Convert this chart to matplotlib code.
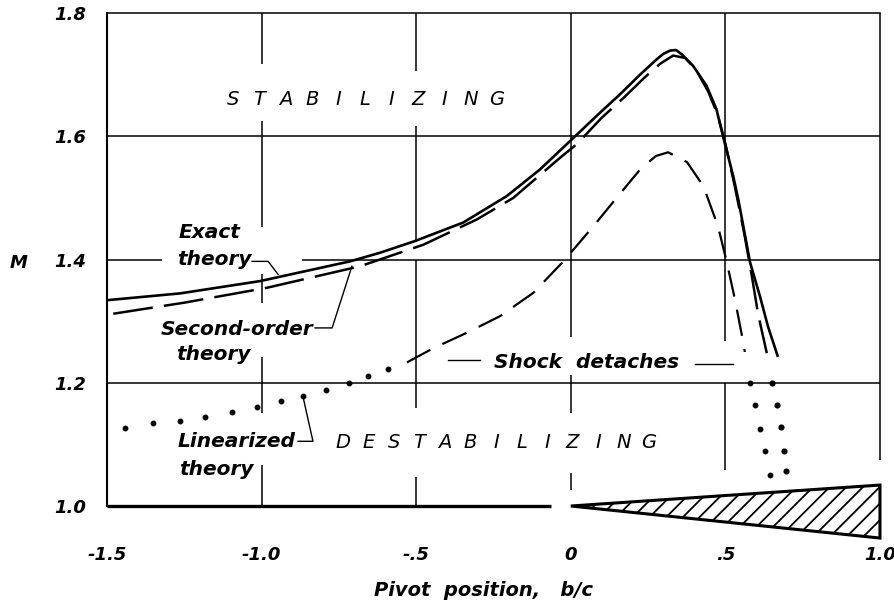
import matplotlib
matplotlib.use('Agg')
from matplotlib import pyplot as plt

plt.rcParams['font.family'] = ['DejaVu Sans']
plt.rcParams['hatch.linewidth'] = 1.3

# 精确理论 (实线)
exact_x = [-1.5, -1.264, -1.005, -0.714, -0.617, -0.504, -0.348, -0.207, -0.100, -0.003,
           0.094, 0.159, 0.224, 0.278, 0.300, 0.321, 0.340, 0.359, 0.396, 0.439, 0.471,
           0.495, 0.525, 0.542, 0.580, 0.612, 0.638, 0.670]
exact_m = [1.334, 1.345, 1.365, 1.397, 1.411, 1.430, 1.460, 1.503, 1.546, 1.592,
           1.638, 1.668, 1.700, 1.725, 1.734, 1.739, 1.740, 1.733, 1.714, 1.682, 1.644,
           1.595, 1.536, 1.497, 1.395, 1.340, 1.291, 1.242]

# 二阶理论 (长虚线)
second_x = [-1.48, -1.25, -0.984, -0.682, -0.477, -0.304, -0.186, -0.035, 0.019, 0.10,
            0.17, 0.24, 0.29, 0.331, 0.37, 0.405, 0.445, 0.475, 0.50, 0.53, 0.56,
            0.585, 0.606, 0.634]
second_m = [1.312, 1.330, 1.354, 1.389, 1.424, 1.465, 1.500, 1.565, 1.587, 1.630,
            1.662, 1.696, 1.718, 1.731, 1.727, 1.708, 1.672, 1.635, 1.588, 1.520, 1.445,
            1.375, 1.311, 1.248]

# 线性化理论 (短虚线部分)
lin_x = [-0.530, -0.445, -0.337, -0.229, -0.121, -0.024, 0.073, 0.148, 0.224, 0.275,
         0.315, 0.376, 0.429, 0.476, 0.504, 0.531, 0.558, 0.563]
lin_m = [1.233, 1.256, 1.281, 1.308, 1.346, 1.397, 1.454, 1.500, 1.546, 1.568,
         1.574, 1.558, 1.519, 1.454, 1.397, 1.335, 1.265, 1.250]

# 线性化理论 (点线部分)
lin_dot_x = [-1.442, -1.351, -1.264, -1.183, -1.097, -1.016, -0.937, -0.865, -0.792,
             -0.717, -0.655, -0.590]
lin_dot_m = [1.126, 1.134, 1.138, 1.145, 1.152, 1.161, 1.170, 1.179, 1.189,
             1.200, 1.211, 1.222]

# 激波脱体后的点线
det_a_x = [0.580, 0.596, 0.612, 0.628, 0.644]
det_a_m = [1.200, 1.164, 1.125, 1.089, 1.050]
det_b_x = [0.651, 0.666, 0.680, 0.690, 0.696]
det_b_m = [1.200, 1.164, 1.128, 1.089, 1.057]

# 楔形翼型
wedge_x = [0.0, 1.0, 1.0]
wedge_m = [1.0, 1.034, 0.948]

x_ticks = [-1.5, -1.0, -0.5, 0.0, 0.5, 1.0]
x_labels = ['-1.5', '-1.0', '-.5', '0', '.5', '1.0']
y_ticks = [1.0, 1.2, 1.4, 1.6, 1.8]
y_labels = ['1.0', '1.2', '1.4', '1.6', '1.8']

fig = plt.figure(figsize=(8.95, 6.06), dpi=100)
ax = fig.add_axes([0.1196, 0.165, 0.8636, 0.8135])
ax.set_xlim(-1.5, 1.0)
ax.set_ylim(1.0, 1.8)

# 网格线 (留出文字处的空隙)
vgrid = {-1.0: [(1.717, 1.8), (1.452, 1.624), (1.330, 1.376), (1.151, 1.242), (1.0, 1.067)],
         -0.5: [(1.706, 1.8), (1.429, 1.616), (1.159, 1.400), (1.0, 1.047)],
         0.0: [(1.275, 1.8), (1.151, 1.213), (1.026, 1.054)],
         0.5: [(1.267, 1.8), (1.059, 1.200)],
         1.0: [(1.075, 1.8)]}
for gx, segs in vgrid.items():
    for lo, hi in segs:
        ax.vlines(gx, lo, hi, color='black', lw=1.1, clip_on=False)
hgrid = {1.6: [(-1.5, 1.0)],
         1.4: [(-1.5, -1.322), (-0.869, 1.0)],
         1.2: [(-1.5, 1.0)]}
for gy, segs in hgrid.items():
    for lo, hi in segs:
        ax.hlines(gy, lo, hi, color='black', lw=1.1)
ax.hlines(1.0, -1.5, -0.065, color='black', lw=2.4, clip_on=False)

for s in ['right', 'bottom']:
    ax.spines[s].set_visible(False)
ax.spines['left'].set_linewidth(1.5)
ax.spines['top'].set_linewidth(1.1)

# 曲线
ax.plot(exact_x, exact_m, color='black', lw=1.9, solid_capstyle='butt')
ax.plot(second_x, second_m, color='black', lw=1.8, dashes=(16, 4.5))
ax.plot(lin_x, lin_m, color='black', lw=1.6, dashes=(12, 6))
ax.plot(lin_dot_x, lin_dot_m, 'o', color='black', ms=3.2, ls='none')
ax.plot(det_a_x, det_a_m, 'o', color='black', ms=3.2, ls='none', clip_on=False)
ax.plot(det_b_x, det_b_m, 'o', color='black', ms=3.4, ls='none', clip_on=False)

ax.fill(wedge_x, wedge_m, facecolor='white', edgecolor='black', lw=2.2,
        hatch='//', clip_on=False, zorder=3)

# 刻度
ax.set_xticks(x_ticks)
ax.set_xticklabels(x_labels, fontsize=13, fontweight='bold', style='italic')
ax.set_yticks(y_ticks)
ax.set_yticklabels(y_labels, fontsize=13, fontweight='bold', style='italic')
ax.tick_params(axis='x', length=0, pad=29)
ax.tick_params(axis='y', length=0, pad=15)

# 文字
tfont = dict(fontsize=14.5, fontweight='bold', style='italic', ha='center', va='center')
ax.text(-1.167, 1.444, 'Exact', **tfont)
ax.text(-1.154, 1.400, 'theory', **tfont)
ax.plot([-1.031, -0.979, -0.947], [1.397, 1.397, 1.376], color='black', lw=1.0)
ax.text(-1.080, 1.286, 'Second-order', **tfont)
ax.text(-1.157, 1.246, 'theory', **tfont)
ax.plot([-0.827, -0.772, -0.708], [1.289, 1.289, 1.389], color='black', lw=1.0)
ax.text(-1.080, 1.104, 'Linearized', **tfont)
ax.text(-1.147, 1.059, 'theory', **tfont)
ax.plot([-0.882, -0.834, -0.866], [1.105, 1.105, 1.177], color='black', lw=1.0)
ax.text(0.052, 1.233, 'Shock  detaches', **tfont)
ax.plot([-0.397, -0.294], [1.237, 1.237], color='black', lw=1.0)
ax.plot([0.402, 0.525], [1.231, 1.231], color='black', lw=1.0)

for i, ch in enumerate('STABILIZING'):
    ax.text(-1.0925 + i * 0.0854, 1.660, ch, fontsize=14, style='italic',
            ha='center', va='center')
for i, ch in enumerate('DESTABILIZING'):
    ax.text(-0.737 + i * 0.0825, 1.1025, ch, fontsize=14, style='italic',
            ha='center', va='center')

ax.text(-1.785, 1.395, 'M', fontsize=13, fontweight='bold', style='italic',
        ha='center', va='center', clip_on=False)
ax.text(-0.281, 0.863, 'Pivot  position,   b/c', fontsize=14, fontweight='bold',
        style='italic', ha='center', va='center', clip_on=False)

plt.savefig('out.png', dpi=100)
